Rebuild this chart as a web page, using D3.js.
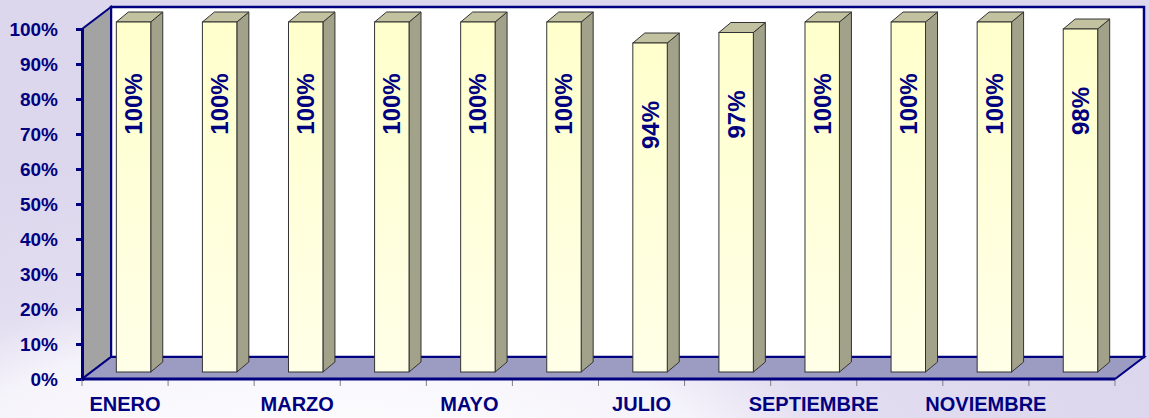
<!DOCTYPE html>
<html>
<head>
<meta charset="utf-8">
<script src="https://cdn.jsdelivr.net/npm/d3@7"></script>
<style>
  body { margin: 0; background: #dcd8ee; }
  svg { display: block; font-family: Arial, "Liberation Sans", sans-serif; }
</style>
</head>
<body>
<svg width="1149" height="418"></svg>
<script>
// monthly values (fraction)
const months = ["ENERO", "FEBRERO", "MARZO", "ABRIL", "MAYO", "JUNIO",
                "JULIO", "AGOSTO", "SEPTIEMBRE", "OCTUBRE", "NOVIEMBRE", "DICIEMBRE"];
const values = [1.00, 1.00, 1.00, 1.00, 1.00, 1.00, 0.94, 0.97, 1.00, 1.00, 1.00, 0.98];
const yTicks = [0, 0.1, 0.2, 0.3, 0.4, 0.5, 0.6, 0.7, 0.8, 0.9, 1.0];
const shownLabels = ["ENERO", "MARZO", "MAYO", "JULIO", "SEPTIEMBRE", "NOVIEMBRE"];

const svg = d3.select("svg");
const navy = "#000080";

// chart frame (front plane) and 3d depth
const pLeft = 82, pRight = 1115, pTop = 29, pBottom = 379;
const depth = { dx: 29, dy: -22 };
const barShift = { dx: 8.5, dy: -7 };
const barDepth = { dx: 12, dy: -10 };

// background
const defs = svg.append("defs");
const bg = defs.append("radialGradient").attr("id", "bg")
    .attr("gradientUnits", "userSpaceOnUse")
    .attr("cx", 330).attr("cy", 470).attr("r", 560)
    .attr("gradientTransform", "translate(330,470) scale(1.5,0.55) translate(-330,-470)");
bg.append("stop").attr("offset", "0%").attr("stop-color", "#ffffff");
bg.append("stop").attr("offset", "45%").attr("stop-color", "#f6f4fb");
bg.append("stop").attr("offset", "62%").attr("stop-color", "#e2ddf0");
bg.append("stop").attr("offset", "100%").attr("stop-color", "#dcd7ec");
svg.append("rect").attr("width", 1149).attr("height", 418).attr("fill", "url(#bg)");

const barGrad = defs.append("linearGradient").attr("id", "barFront")
    .attr("x1", 0).attr("y1", 0).attr("x2", 0).attr("y2", 1);
barGrad.append("stop").attr("offset", "0%").attr("stop-color", "#ffffcc");
barGrad.append("stop").attr("offset", "100%").attr("stop-color", "#ffffe8");

const x = d3.scaleBand().domain(months).range([pLeft, pRight])
    .paddingInner(0.6).paddingOuter(0.3);
const y = d3.scaleLinear().domain([0, 1]).range([pBottom, pTop]);

const pts = p => p.map(d => d.join(",")).join(" ");

// back wall
svg.append("polygon")
    .attr("points", pts([[pLeft + depth.dx, pTop + depth.dy], [pRight + depth.dx, pTop + depth.dy],
                         [pRight + depth.dx, pBottom + depth.dy], [pLeft + depth.dx, pBottom + depth.dy]]))
    .attr("fill", "#ffffff").attr("stroke", navy).attr("stroke-width", 2.5);

// side wall
svg.append("polygon")
    .attr("points", pts([[pLeft, pTop], [pLeft + depth.dx, pTop + depth.dy],
                         [pLeft + depth.dx, pBottom + depth.dy], [pLeft, pBottom]]))
    .attr("fill", "#a3a3a3").attr("stroke", navy).attr("stroke-width", 2);

// floor
svg.append("polygon")
    .attr("points", pts([[pLeft, pBottom], [pLeft + depth.dx, pBottom + depth.dy],
                         [pRight + depth.dx, pBottom + depth.dy], [pRight, pBottom]]))
    .attr("fill", "#9c9cc2").attr("stroke", navy).attr("stroke-width", 2);

// bars
const bars = svg.append("g").selectAll("g").data(months).join("g");
const bw = x.bandwidth();
bars.each(function (m, i) {
    const g = d3.select(this);
    const x0 = x(m) + barShift.dx, x1 = x0 + bw;
    const y0 = pBottom + barShift.dy, y1 = y(values[i]) + barShift.dy;
    g.append("polygon")
        .attr("points", pts([[x1, y1], [x1 + barDepth.dx, y1 + barDepth.dy],
                             [x1 + barDepth.dx, y0 + barDepth.dy], [x1, y0]]))
        .attr("fill", "#a2a28a").attr("stroke", "#333").attr("stroke-width", 1);
    g.append("polygon")
        .attr("points", pts([[x0, y1], [x0 + barDepth.dx, y1 + barDepth.dy],
                             [x1 + barDepth.dx, y1 + barDepth.dy], [x1, y1]]))
        .attr("fill", "#c2c2a0").attr("stroke", "#333").attr("stroke-width", 1);
    g.append("rect")
        .attr("x", x0).attr("y", y1).attr("width", bw).attr("height", y0 - y1)
        .attr("fill", "url(#barFront)").attr("stroke", "#333").attr("stroke-width", 1);
    const cx = x0 + bw / 2, cy = y1 + 82;
    g.append("text")
        .attr("transform", `translate(${cx},${cy}) rotate(-90)`)
        .attr("text-anchor", "middle").attr("dominant-baseline", "central")
        .attr("fill", navy).attr("font-weight", "bold").attr("font-size", 24)
        .text(d3.format(".0%")(values[i]));
});

// y axis
const yAxis = svg.append("g").attr("transform", `translate(${pLeft},0)`)
    .call(d3.axisLeft(y).tickValues(yTicks).tickFormat(d3.format(".0%"))
        .tickSize(6).tickPadding(18));
yAxis.select(".domain").attr("stroke", navy).attr("stroke-width", 3);
yAxis.selectAll(".tick line").attr("stroke", navy).attr("stroke-width", 3);
yAxis.selectAll(".tick text").attr("fill", navy).attr("font-weight", "bold")
    .attr("font-size", 19).attr("font-family", "Arial, 'Liberation Sans', sans-serif");

// x axis
const xBound = d3.scaleLinear().domain([0, months.length]).range([pLeft, pRight]);
svg.append("g").selectAll("line").data(d3.range(months.length + 1)).join("line")
    .attr("x1", d => xBound(d)).attr("x2", d => xBound(d))
    .attr("y1", pBottom).attr("y2", pBottom + 7)
    .attr("stroke", "#808080").attr("stroke-width", 1);
svg.append("line").attr("x1", pLeft).attr("x2", pRight).attr("y1", pBottom).attr("y2", pBottom)
    .attr("stroke", navy).attr("stroke-width", 3);
svg.append("g").selectAll("text").data(shownLabels).join("text")
    .attr("x", d => x(d) + bw / 2).attr("y", 411)
    .attr("text-anchor", "middle").attr("fill", navy)
    .attr("font-weight", "bold").attr("font-size", 20)
    .text(d => d);
</script>
</body>
</html>
